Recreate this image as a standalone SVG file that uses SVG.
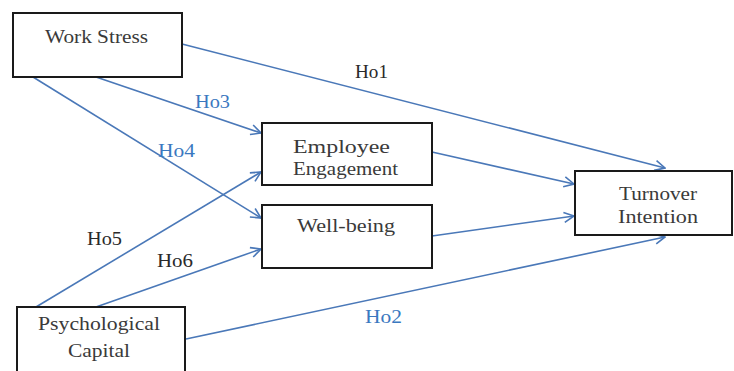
<svg xmlns="http://www.w3.org/2000/svg" width="734" height="371" viewBox="0 0 734 371">
<style>
.box{fill:#fff;stroke:#1a1a1a;stroke-width:2}
.t{font-family:"Liberation Serif",serif;font-size:18px;fill:#3a3a3a}
.lb{font-family:"Liberation Serif",serif;font-size:18px;fill:#2a2a2a}
.lbb{font-family:"Liberation Serif",serif;font-size:18px;fill:#3a78c0}
.c{stroke:#4a78b8;stroke-width:1.6;fill:none;marker-end:url(#ah)}
</style>
<defs>
<marker id="ah" viewBox="0 0 12 12" refX="11" refY="6" markerWidth="12" markerHeight="12" markerUnits="userSpaceOnUse" orient="auto">
<path d="M1,1 L11,6 L1,11" fill="none" stroke="#4a78b8" stroke-width="1.6"/>
</marker>
</defs>
<rect width="734" height="371" fill="#fff"/>
<g id="connectors">
<line class="c" x1="182" y1="44" x2="665" y2="168"/>
<line class="c" x1="96" y1="77" x2="261" y2="133"/>
<line class="c" x1="33" y1="77" x2="261" y2="218"/>
<line class="c" x1="432" y1="152" x2="574" y2="184"/>
<line class="c" x1="432" y1="236" x2="574" y2="216"/>
<line class="c" x1="36" y1="307" x2="261" y2="172"/>
<line class="c" x1="96" y1="307" x2="261" y2="249"/>
<line class="c" x1="186" y1="339" x2="665" y2="237"/>
<text class="lb" x="355" y="78" textLength="33" lengthAdjust="spacingAndGlyphs">Ho1</text>
<text class="lbb" x="195" y="108" textLength="35" lengthAdjust="spacingAndGlyphs">Ho3</text>
<text class="lbb" x="158" y="157" textLength="37" lengthAdjust="spacingAndGlyphs">Ho4</text>
<text class="lb" x="87" y="245" textLength="35" lengthAdjust="spacingAndGlyphs">Ho5</text>
<text class="lb" x="157" y="267" textLength="36" lengthAdjust="spacingAndGlyphs">Ho6</text>
<text class="lbb" x="365" y="323" textLength="37" lengthAdjust="spacingAndGlyphs">Ho2</text>
</g>
<g id="work-stress">
<rect class="box" x="13" y="13" width="169" height="64"/>
<text class="t" x="45" y="43" textLength="103" lengthAdjust="spacingAndGlyphs">Work Stress</text>
</g>
<g id="employee-engagement">
<rect class="box" x="262" y="123" width="170" height="62"/>
<text class="t" x="293" y="153" textLength="97" lengthAdjust="spacingAndGlyphs">Employee</text>
<text class="t" x="293" y="175" textLength="105" lengthAdjust="spacingAndGlyphs">Engagement</text>
</g>
<g id="well-being">
<rect class="box" x="262" y="205" width="170" height="63"/>
<text class="t" x="297" y="232" textLength="98" lengthAdjust="spacingAndGlyphs">Well-being</text>
</g>
<g id="turnover-intention">
<rect class="box" x="575" y="171" width="157" height="64"/>
<text class="t" x="619" y="200" textLength="78" lengthAdjust="spacingAndGlyphs">Turnover</text>
<text class="t" x="618" y="223" textLength="80" lengthAdjust="spacingAndGlyphs">Intention</text>
</g>
<g id="psychological-capital">
<rect class="box" x="17" y="307" width="168" height="66"/>
<text class="t" x="38" y="330" textLength="122" lengthAdjust="spacingAndGlyphs">Psychological</text>
<text class="t" x="68" y="357" textLength="62" lengthAdjust="spacingAndGlyphs">Capital</text>
</g>
</svg>
